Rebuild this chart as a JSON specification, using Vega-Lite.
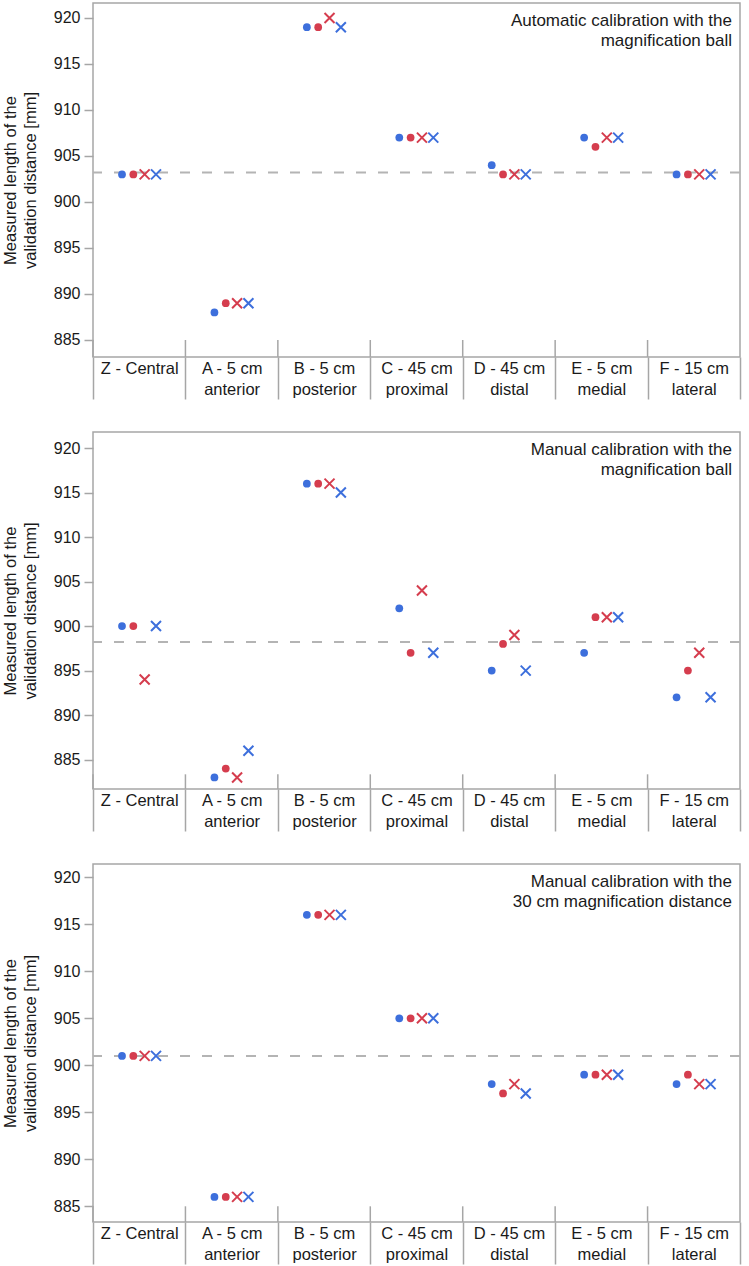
{
  "$schema": "https://vega.github.io/schema/vega-lite/v6.json",
  "padding": {"left": 1, "top": 2, "right": 0, "bottom": 0},
  "spacing": 30,
  "resolve": {"scale": {"y": "independent"}},
  "datasets": {
    "locations": [
      {"location": "Z - Central"},
      {"location": "A - 5 cm anterior"},
      {"location": "B - 5 cm posterior"},
      {"location": "C - 45 cm proximal"},
      {"location": "D - 45 cm distal"},
      {"location": "E - 5 cm medial"},
      {"location": "F - 15 cm lateral"}
    ],
    "refs": [
      {"panel": "auto-ball", "reference": 903.2, "method": ["Automatic calibration with the", "magnification ball"]},
      {"panel": "manual-ball", "reference": 898.2, "method": ["Manual calibration with the", "magnification ball"]},
      {"panel": "manual-30cm", "reference": 901.0, "method": ["Manual calibration with the", "30 cm magnification distance"]}
    ],
    "pts": [
      {"panel": "auto-ball", "location": "Z - Central", "observer": "1", "reading": "1", "series": "O1R1", "length": 903},
      {"panel": "auto-ball", "location": "Z - Central", "observer": "2", "reading": "1", "series": "O2R1", "length": 903},
      {"panel": "auto-ball", "location": "Z - Central", "observer": "1", "reading": "2", "series": "O1R2", "length": 903},
      {"panel": "auto-ball", "location": "Z - Central", "observer": "2", "reading": "2", "series": "O2R2", "length": 903},
      {"panel": "auto-ball", "location": "A - 5 cm anterior", "observer": "1", "reading": "1", "series": "O1R1", "length": 888},
      {"panel": "auto-ball", "location": "A - 5 cm anterior", "observer": "2", "reading": "1", "series": "O2R1", "length": 889},
      {"panel": "auto-ball", "location": "A - 5 cm anterior", "observer": "1", "reading": "2", "series": "O1R2", "length": 889},
      {"panel": "auto-ball", "location": "A - 5 cm anterior", "observer": "2", "reading": "2", "series": "O2R2", "length": 889},
      {"panel": "auto-ball", "location": "B - 5 cm posterior", "observer": "1", "reading": "1", "series": "O1R1", "length": 919},
      {"panel": "auto-ball", "location": "B - 5 cm posterior", "observer": "2", "reading": "1", "series": "O2R1", "length": 919},
      {"panel": "auto-ball", "location": "B - 5 cm posterior", "observer": "1", "reading": "2", "series": "O1R2", "length": 919},
      {"panel": "auto-ball", "location": "B - 5 cm posterior", "observer": "2", "reading": "2", "series": "O2R2", "length": 920},
      {"panel": "auto-ball", "location": "C - 45 cm proximal", "observer": "1", "reading": "1", "series": "O1R1", "length": 907},
      {"panel": "auto-ball", "location": "C - 45 cm proximal", "observer": "2", "reading": "1", "series": "O2R1", "length": 907},
      {"panel": "auto-ball", "location": "C - 45 cm proximal", "observer": "1", "reading": "2", "series": "O1R2", "length": 907},
      {"panel": "auto-ball", "location": "C - 45 cm proximal", "observer": "2", "reading": "2", "series": "O2R2", "length": 907},
      {"panel": "auto-ball", "location": "D - 45 cm distal", "observer": "1", "reading": "1", "series": "O1R1", "length": 904},
      {"panel": "auto-ball", "location": "D - 45 cm distal", "observer": "2", "reading": "1", "series": "O2R1", "length": 903},
      {"panel": "auto-ball", "location": "D - 45 cm distal", "observer": "1", "reading": "2", "series": "O1R2", "length": 903},
      {"panel": "auto-ball", "location": "D - 45 cm distal", "observer": "2", "reading": "2", "series": "O2R2", "length": 903},
      {"panel": "auto-ball", "location": "E - 5 cm medial", "observer": "1", "reading": "1", "series": "O1R1", "length": 907},
      {"panel": "auto-ball", "location": "E - 5 cm medial", "observer": "2", "reading": "1", "series": "O2R1", "length": 906},
      {"panel": "auto-ball", "location": "E - 5 cm medial", "observer": "1", "reading": "2", "series": "O1R2", "length": 907},
      {"panel": "auto-ball", "location": "E - 5 cm medial", "observer": "2", "reading": "2", "series": "O2R2", "length": 907},
      {"panel": "auto-ball", "location": "F - 15 cm lateral", "observer": "1", "reading": "1", "series": "O1R1", "length": 903},
      {"panel": "auto-ball", "location": "F - 15 cm lateral", "observer": "2", "reading": "1", "series": "O2R1", "length": 903},
      {"panel": "auto-ball", "location": "F - 15 cm lateral", "observer": "1", "reading": "2", "series": "O1R2", "length": 903},
      {"panel": "auto-ball", "location": "F - 15 cm lateral", "observer": "2", "reading": "2", "series": "O2R2", "length": 903},

      {"panel": "manual-ball", "location": "Z - Central", "observer": "1", "reading": "1", "series": "O1R1", "length": 900},
      {"panel": "manual-ball", "location": "Z - Central", "observer": "2", "reading": "1", "series": "O2R1", "length": 900},
      {"panel": "manual-ball", "location": "Z - Central", "observer": "1", "reading": "2", "series": "O1R2", "length": 900},
      {"panel": "manual-ball", "location": "Z - Central", "observer": "2", "reading": "2", "series": "O2R2", "length": 894},
      {"panel": "manual-ball", "location": "A - 5 cm anterior", "observer": "1", "reading": "1", "series": "O1R1", "length": 883},
      {"panel": "manual-ball", "location": "A - 5 cm anterior", "observer": "2", "reading": "1", "series": "O2R1", "length": 884},
      {"panel": "manual-ball", "location": "A - 5 cm anterior", "observer": "1", "reading": "2", "series": "O1R2", "length": 886},
      {"panel": "manual-ball", "location": "A - 5 cm anterior", "observer": "2", "reading": "2", "series": "O2R2", "length": 883},
      {"panel": "manual-ball", "location": "B - 5 cm posterior", "observer": "1", "reading": "1", "series": "O1R1", "length": 916},
      {"panel": "manual-ball", "location": "B - 5 cm posterior", "observer": "2", "reading": "1", "series": "O2R1", "length": 916},
      {"panel": "manual-ball", "location": "B - 5 cm posterior", "observer": "1", "reading": "2", "series": "O1R2", "length": 915},
      {"panel": "manual-ball", "location": "B - 5 cm posterior", "observer": "2", "reading": "2", "series": "O2R2", "length": 916},
      {"panel": "manual-ball", "location": "C - 45 cm proximal", "observer": "1", "reading": "1", "series": "O1R1", "length": 902},
      {"panel": "manual-ball", "location": "C - 45 cm proximal", "observer": "2", "reading": "1", "series": "O2R1", "length": 897},
      {"panel": "manual-ball", "location": "C - 45 cm proximal", "observer": "1", "reading": "2", "series": "O1R2", "length": 897},
      {"panel": "manual-ball", "location": "C - 45 cm proximal", "observer": "2", "reading": "2", "series": "O2R2", "length": 904},
      {"panel": "manual-ball", "location": "D - 45 cm distal", "observer": "1", "reading": "1", "series": "O1R1", "length": 895},
      {"panel": "manual-ball", "location": "D - 45 cm distal", "observer": "2", "reading": "1", "series": "O2R1", "length": 898},
      {"panel": "manual-ball", "location": "D - 45 cm distal", "observer": "1", "reading": "2", "series": "O1R2", "length": 895},
      {"panel": "manual-ball", "location": "D - 45 cm distal", "observer": "2", "reading": "2", "series": "O2R2", "length": 899},
      {"panel": "manual-ball", "location": "E - 5 cm medial", "observer": "1", "reading": "1", "series": "O1R1", "length": 897},
      {"panel": "manual-ball", "location": "E - 5 cm medial", "observer": "2", "reading": "1", "series": "O2R1", "length": 901},
      {"panel": "manual-ball", "location": "E - 5 cm medial", "observer": "1", "reading": "2", "series": "O1R2", "length": 901},
      {"panel": "manual-ball", "location": "E - 5 cm medial", "observer": "2", "reading": "2", "series": "O2R2", "length": 901},
      {"panel": "manual-ball", "location": "F - 15 cm lateral", "observer": "1", "reading": "1", "series": "O1R1", "length": 892},
      {"panel": "manual-ball", "location": "F - 15 cm lateral", "observer": "2", "reading": "1", "series": "O2R1", "length": 895},
      {"panel": "manual-ball", "location": "F - 15 cm lateral", "observer": "1", "reading": "2", "series": "O1R2", "length": 892},
      {"panel": "manual-ball", "location": "F - 15 cm lateral", "observer": "2", "reading": "2", "series": "O2R2", "length": 897},

      {"panel": "manual-30cm", "location": "Z - Central", "observer": "1", "reading": "1", "series": "O1R1", "length": 901},
      {"panel": "manual-30cm", "location": "Z - Central", "observer": "2", "reading": "1", "series": "O2R1", "length": 901},
      {"panel": "manual-30cm", "location": "Z - Central", "observer": "1", "reading": "2", "series": "O1R2", "length": 901},
      {"panel": "manual-30cm", "location": "Z - Central", "observer": "2", "reading": "2", "series": "O2R2", "length": 901},
      {"panel": "manual-30cm", "location": "A - 5 cm anterior", "observer": "1", "reading": "1", "series": "O1R1", "length": 886},
      {"panel": "manual-30cm", "location": "A - 5 cm anterior", "observer": "2", "reading": "1", "series": "O2R1", "length": 886},
      {"panel": "manual-30cm", "location": "A - 5 cm anterior", "observer": "1", "reading": "2", "series": "O1R2", "length": 886},
      {"panel": "manual-30cm", "location": "A - 5 cm anterior", "observer": "2", "reading": "2", "series": "O2R2", "length": 886},
      {"panel": "manual-30cm", "location": "B - 5 cm posterior", "observer": "1", "reading": "1", "series": "O1R1", "length": 916},
      {"panel": "manual-30cm", "location": "B - 5 cm posterior", "observer": "2", "reading": "1", "series": "O2R1", "length": 916},
      {"panel": "manual-30cm", "location": "B - 5 cm posterior", "observer": "1", "reading": "2", "series": "O1R2", "length": 916},
      {"panel": "manual-30cm", "location": "B - 5 cm posterior", "observer": "2", "reading": "2", "series": "O2R2", "length": 916},
      {"panel": "manual-30cm", "location": "C - 45 cm proximal", "observer": "1", "reading": "1", "series": "O1R1", "length": 905},
      {"panel": "manual-30cm", "location": "C - 45 cm proximal", "observer": "2", "reading": "1", "series": "O2R1", "length": 905},
      {"panel": "manual-30cm", "location": "C - 45 cm proximal", "observer": "1", "reading": "2", "series": "O1R2", "length": 905},
      {"panel": "manual-30cm", "location": "C - 45 cm proximal", "observer": "2", "reading": "2", "series": "O2R2", "length": 905},
      {"panel": "manual-30cm", "location": "D - 45 cm distal", "observer": "1", "reading": "1", "series": "O1R1", "length": 898},
      {"panel": "manual-30cm", "location": "D - 45 cm distal", "observer": "2", "reading": "1", "series": "O2R1", "length": 897},
      {"panel": "manual-30cm", "location": "D - 45 cm distal", "observer": "1", "reading": "2", "series": "O1R2", "length": 897},
      {"panel": "manual-30cm", "location": "D - 45 cm distal", "observer": "2", "reading": "2", "series": "O2R2", "length": 898},
      {"panel": "manual-30cm", "location": "E - 5 cm medial", "observer": "1", "reading": "1", "series": "O1R1", "length": 899},
      {"panel": "manual-30cm", "location": "E - 5 cm medial", "observer": "2", "reading": "1", "series": "O2R1", "length": 899},
      {"panel": "manual-30cm", "location": "E - 5 cm medial", "observer": "1", "reading": "2", "series": "O1R2", "length": 899},
      {"panel": "manual-30cm", "location": "E - 5 cm medial", "observer": "2", "reading": "2", "series": "O2R2", "length": 899},
      {"panel": "manual-30cm", "location": "F - 15 cm lateral", "observer": "1", "reading": "1", "series": "O1R1", "length": 898},
      {"panel": "manual-30cm", "location": "F - 15 cm lateral", "observer": "2", "reading": "1", "series": "O2R1", "length": 899},
      {"panel": "manual-30cm", "location": "F - 15 cm lateral", "observer": "1", "reading": "2", "series": "O1R2", "length": 898},
      {"panel": "manual-30cm", "location": "F - 15 cm lateral", "observer": "2", "reading": "2", "series": "O2R2", "length": 898}
    ]
  },
  "vconcat": [
    {
      "width": 647, "height": 354,
      "layer": [
        {"data": {"name": "refs"}, "transform": [{"filter": "datum.panel === 'auto-ball'"}],
         "mark": {"type": "rule", "color": "#b4b4b4", "strokeWidth": 2, "strokeDash": [10, 12]},
         "encoding": {"y": {"field": "reference", "type": "quantitative", "title": ["Measured length of the", "validation distance [mm]"], "scale": {"domain": [883.15, 921.63], "nice": false, "zero": false}, "axis": {"values": [885, 890, 895, 900, 905, 910, 915, 920]}}}},
        {"data": {"name": "refs"}, "transform": [{"filter": "datum.panel === 'auto-ball'"}],
         "mark": {"type": "text", "align": "right", "baseline": "top", "dx": -8, "dy": 9.5, "fontSize": 17, "lineHeight": 20.5, "color": "#1a1a1a"},
         "encoding": {"x": {"datum": "F - 15 cm lateral", "type": "nominal", "bandPosition": 1, "scale": {"domain": ["Z - Central", "A - 5 cm anterior", "B - 5 cm posterior", "C - 45 cm proximal", "D - 45 cm distal", "E - 5 cm medial", "F - 15 cm lateral"], "paddingInner": 0, "paddingOuter": 0}}, "y": {"datum": 921.63, "type": "quantitative"}, "text": {"field": "method", "type": "nominal"}}},
        {"data": {"name": "locations"},
         "mark": {"type": "rule", "color": "#a6a6a6", "strokeWidth": 1.5},
         "encoding": {"x": {"field": "location", "type": "nominal", "bandPosition": 0, "title": null, "sort": null}, "y": {"datum": 885}, "y2": {"datum": 883.15}}},
        {"data": {"name": "pts"}, "transform": [{"filter": "datum.panel === 'auto-ball' && datum.reading === '1'"}],
         "mark": {"type": "circle", "size": 60, "opacity": 1},
         "encoding": {"x": {"field": "location", "type": "nominal", "title": null, "sort": null},
           "xOffset": {"field": "series", "type": "nominal", "scale": {"type": "point", "domain": ["O1R1", "O2R1", "O2R2", "O1R2"], "range": [29, 63], "padding": 0}},
           "y": {"field": "length", "type": "quantitative", "title": ["Measured length of the", "validation distance [mm]"]},
           "color": {"field": "observer", "type": "nominal", "legend": null, "scale": {"domain": ["1", "2"], "range": ["#3d6fdc", "#d53d4e"]}}}},
        {"data": {"name": "pts"}, "transform": [{"filter": "datum.panel === 'auto-ball' && datum.reading === '2'"}],
         "mark": {"type": "point", "shape": "M-1,-1L1,1M-1,1L1,-1", "size": 100, "strokeWidth": 2, "filled": false, "opacity": 1},
         "encoding": {"x": {"field": "location", "type": "nominal", "title": null, "sort": null},
           "xOffset": {"field": "series", "type": "nominal"},
           "y": {"field": "length", "type": "quantitative", "title": ["Measured length of the", "validation distance [mm]"]},
           "color": {"field": "observer", "type": "nominal", "legend": null}}}
      ]
    },
    {
      "width": 647, "height": 357,
      "layer": [
        {"data": {"name": "refs"}, "transform": [{"filter": "datum.panel === 'manual-ball'"}],
         "mark": {"type": "rule", "color": "#b4b4b4", "strokeWidth": 2, "strokeDash": [10, 12]},
         "encoding": {"y": {"field": "reference", "type": "quantitative", "title": ["Measured length of the", "validation distance [mm]"], "scale": {"domain": [881.7, 921.8], "nice": false, "zero": false}, "axis": {"values": [885, 890, 895, 900, 905, 910, 915, 920]}}}},
        {"data": {"name": "refs"}, "transform": [{"filter": "datum.panel === 'manual-ball'"}],
         "mark": {"type": "text", "align": "right", "baseline": "top", "dx": -8, "dy": 9.5, "fontSize": 17, "lineHeight": 20.5, "color": "#1a1a1a"},
         "encoding": {"x": {"datum": "F - 15 cm lateral", "type": "nominal", "bandPosition": 1, "scale": {"domain": ["Z - Central", "A - 5 cm anterior", "B - 5 cm posterior", "C - 45 cm proximal", "D - 45 cm distal", "E - 5 cm medial", "F - 15 cm lateral"], "paddingInner": 0, "paddingOuter": 0}}, "y": {"datum": 921.8, "type": "quantitative"}, "text": {"field": "method", "type": "nominal"}}},
        {"data": {"name": "locations"},
         "mark": {"type": "rule", "color": "#a6a6a6", "strokeWidth": 1.5},
         "encoding": {"x": {"field": "location", "type": "nominal", "bandPosition": 0, "title": null, "sort": null}, "y": {"datum": 883.35}, "y2": {"datum": 881.7}}},
        {"data": {"name": "pts"}, "transform": [{"filter": "datum.panel === 'manual-ball' && datum.reading === '1'"}],
         "mark": {"type": "circle", "size": 60, "opacity": 1},
         "encoding": {"x": {"field": "location", "type": "nominal", "title": null, "sort": null},
           "xOffset": {"field": "series", "type": "nominal", "scale": {"type": "point", "domain": ["O1R1", "O2R1", "O2R2", "O1R2"], "range": [29, 63], "padding": 0}},
           "y": {"field": "length", "type": "quantitative", "title": ["Measured length of the", "validation distance [mm]"]},
           "color": {"field": "observer", "type": "nominal", "legend": null, "scale": {"domain": ["1", "2"], "range": ["#3d6fdc", "#d53d4e"]}}}},
        {"data": {"name": "pts"}, "transform": [{"filter": "datum.panel === 'manual-ball' && datum.reading === '2'"}],
         "mark": {"type": "point", "shape": "M-1,-1L1,1M-1,1L1,-1", "size": 100, "strokeWidth": 2, "filled": false, "opacity": 1},
         "encoding": {"x": {"field": "location", "type": "nominal", "title": null, "sort": null},
           "xOffset": {"field": "series", "type": "nominal"},
           "y": {"field": "length", "type": "quantitative", "title": ["Measured length of the", "validation distance [mm]"]},
           "color": {"field": "observer", "type": "nominal", "legend": null}}}
      ]
    },
    {
      "width": 647, "height": 358,
      "layer": [
        {"data": {"name": "refs"}, "transform": [{"filter": "datum.panel === 'manual-30cm'"}],
         "mark": {"type": "rule", "color": "#b4b4b4", "strokeWidth": 2, "strokeDash": [10, 12]},
         "encoding": {"y": {"field": "reference", "type": "quantitative", "title": ["Measured length of the", "validation distance [mm]"], "scale": {"domain": [883.33, 921.41], "nice": false, "zero": false}, "axis": {"values": [885, 890, 895, 900, 905, 910, 915, 920]}}}},
        {"data": {"name": "refs"}, "transform": [{"filter": "datum.panel === 'manual-30cm'"}],
         "mark": {"type": "text", "align": "right", "baseline": "top", "dx": -8, "dy": 9.5, "fontSize": 17, "lineHeight": 20.5, "color": "#1a1a1a"},
         "encoding": {"x": {"datum": "F - 15 cm lateral", "type": "nominal", "bandPosition": 1, "scale": {"domain": ["Z - Central", "A - 5 cm anterior", "B - 5 cm posterior", "C - 45 cm proximal", "D - 45 cm distal", "E - 5 cm medial", "F - 15 cm lateral"], "paddingInner": 0, "paddingOuter": 0}}, "y": {"datum": 921.41, "type": "quantitative"}, "text": {"field": "method", "type": "nominal"}}},
        {"data": {"name": "locations"},
         "mark": {"type": "rule", "color": "#a6a6a6", "strokeWidth": 1.5},
         "encoding": {"x": {"field": "location", "type": "nominal", "bandPosition": 0, "title": null, "sort": null}, "y": {"datum": 885}, "y2": {"datum": 883.33}}},
        {"data": {"name": "pts"}, "transform": [{"filter": "datum.panel === 'manual-30cm' && datum.reading === '1'"}],
         "mark": {"type": "circle", "size": 60, "opacity": 1},
         "encoding": {"x": {"field": "location", "type": "nominal", "title": null, "sort": null},
           "xOffset": {"field": "series", "type": "nominal", "scale": {"type": "point", "domain": ["O1R1", "O2R1", "O2R2", "O1R2"], "range": [29, 63], "padding": 0}},
           "y": {"field": "length", "type": "quantitative", "title": ["Measured length of the", "validation distance [mm]"]},
           "color": {"field": "observer", "type": "nominal", "legend": null, "scale": {"domain": ["1", "2"], "range": ["#3d6fdc", "#d53d4e"]}}}},
        {"data": {"name": "pts"}, "transform": [{"filter": "datum.panel === 'manual-30cm' && datum.reading === '2'"}],
         "mark": {"type": "point", "shape": "M-1,-1L1,1M-1,1L1,-1", "size": 100, "strokeWidth": 2, "filled": false, "opacity": 1},
         "encoding": {"x": {"field": "location", "type": "nominal", "title": null, "sort": null},
           "xOffset": {"field": "series", "type": "nominal"},
           "y": {"field": "length", "type": "quantitative", "title": ["Measured length of the", "validation distance [mm]"]},
           "color": {"field": "observer", "type": "nominal", "legend": null}}}
      ]
    }
  ],
  "config": {
    "font": "Liberation Sans",
    "view": {"stroke": "#a6a6a6", "strokeWidth": 1.5},
    "axis": {"labelColor": "#1a1a1a", "titleColor": "#1a1a1a", "tickColor": "#a6a6a6", "tickWidth": 1.5, "domain": false, "grid": false, "labelFontSize": 16},
    "axisY": {"tickSize": 9, "labelPadding": 4, "titleFontSize": 16.5, "titleFontWeight": "normal", "titlePadding": 15, "titleLineHeight": 20},
    "axisX": {"tickBand": "extent", "tickSize": 42, "labelPadding": -39, "labelAngle": 0, "labelBaseline": "top", "labelFontSize": 16.5, "labelLineHeight": 21,
      "labelExpr": "indexof(datum.label, ' cm ') > 0 ? [slice(datum.label, 0, indexof(datum.label, ' cm ') + 3), slice(datum.label, indexof(datum.label, ' cm ') + 4)] : datum.label"}
  }
}
